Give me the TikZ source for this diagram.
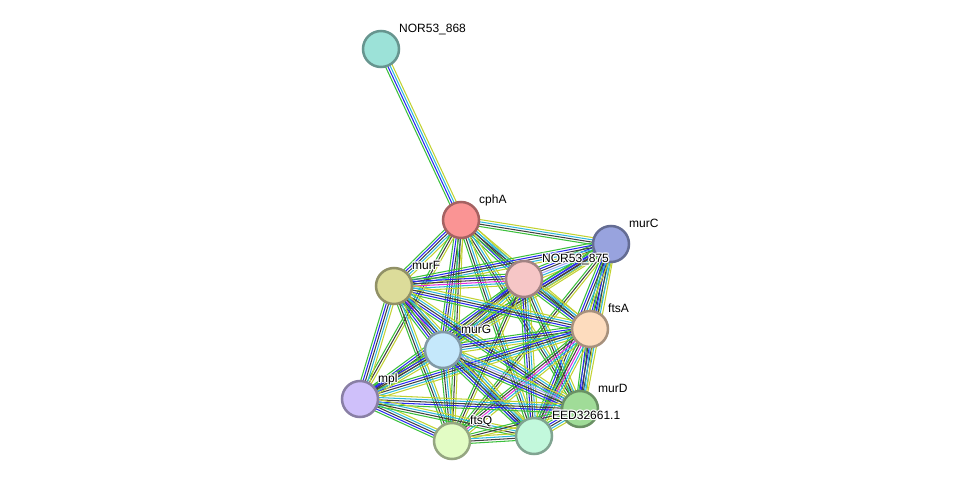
\documentclass[tikz,border=0pt]{standalone}
\usepackage{fontspec}
\setmainfont{Liberation Sans}
\usetikzlibrary{calc}
\pgfdeclarelayer{bg}
\pgfsetlayers{bg,main}
\definecolor{eG}{HTML}{3CC03C}
\definecolor{eB}{HTML}{2A2AF0}
\definecolor{eK}{HTML}{404040}
\definecolor{eM}{HTML}{E030E0}
\definecolor{eC}{HTML}{30B8DC}
\definecolor{eY}{HTML}{C2D232}
\definecolor{eL}{HTML}{A8A8F8}
\tikzset{
  prot/.style={circle, minimum size=36pt, inner sep=0pt, line width=2.5pt, draw=#1!66!black, fill=#1},
  edge/.style={line width=1.05pt},
  lab/.style={anchor=base west, inner sep=0pt, font=\fontsize{12}{12}\selectfont, text=black}
}
\newcommand\bundle[3]{%
  \gdef\nn{0}%
  \foreach \c in {#3}{\xdef\nn{\the\numexpr\nn+1\relax}}%
  \foreach \c [count=\i] in {#3}{%
    \pgfmathsetmacro\off{(\i-(\nn+1)/2)*2.3}%
    \draw[edge,\c] ($(#1)!\off pt!90:(#2)$) -- ($(#2)!\off pt!-90:(#1)$);
  }}
\newcommand\lbl[3]{%
  \foreach \dx/\dy in {1.2/0,-1.2/0,0/1.2,0/-1.2,0.85/0.85,-0.85/0.85,0.85/-0.85,-0.85/-0.85}
    \node[lab,text=white] at ($(#2)+(18+\dx,-16.5+\dy)$) {#3};
  \node[lab] (#1) at ($(#2)+(18,-16.5)$) {#3};}
\definecolor{c868}{HTML}{9CE2D8}
\definecolor{ccphA}{HTML}{FA9494}
\definecolor{cmurC}{HTML}{98A3DE}
\definecolor{c875}{HTML}{F6C6C6}
\definecolor{cmurF}{HTML}{DCDC9A}
\definecolor{cftsA}{HTML}{FDDCBE}
\definecolor{cmurG}{HTML}{C5E8FB}
\definecolor{cmpl}{HTML}{CFC0FA}
\definecolor{cmurD}{HTML}{A0DC98}
\definecolor{cftsQ}{HTML}{E2FCC4}
\definecolor{ceed}{HTML}{C2F8DC}
\begin{document}
\begin{tikzpicture}[x=1pt,y=-1pt]
\useasboundingbox (0,0) rectangle (975,487);
\node[prot=c868] (n868) at (381,49) {};
\node[prot=ccphA] (cphA) at (461,220) {};
\node[prot=cmurC] (murC) at (611,244) {};
\node[prot=c875] (n875) at (524,279) {};
\node[prot=cmurF] (murF) at (394,286) {};
\node[prot=cftsA] (ftsA) at (590,329) {};
\node[prot=cmurG] (murG) at (443,350) {};
\node[prot=cmpl] (mpl) at (360,399) {};
\node[prot=cmurD] (murD) at (580,409) {};
\node[prot=cftsQ] (ftsQ) at (452,441) {};
\node[prot=ceed] (eed) at (534,436) {};
\begin{pgfonlayer}{bg}
\bundle{n868}{cphA}{eG,eB,eC,eY}
\bundle{cphA}{murC}{eG,eK,eC,eY}
\bundle{cphA}{n875}{eG,eB,eK,eC,eY}
\bundle{cphA}{murF}{eG,eB,eK,eC,eY}
\bundle{cphA}{ftsA}{eG,eK,eC,eY}
\bundle{cphA}{murG}{eG,eB,eK,eC,eY}
\bundle{cphA}{mpl}{eG,eK,eY}
\bundle{cphA}{murD}{eG,eK,eC,eY}
\bundle{cphA}{ftsQ}{eG,eK,eY}
\bundle{cphA}{eed}{eG,eK,eC,eY}
\bundle{murC}{n875}{eG,eB,eK,eL,eC,eY}
\bundle{murC}{murF}{eG,eB,eK,eC,eY}
\bundle{murC}{ftsA}{eG,eB,eK,eC,eY}
\bundle{murC}{murG}{eG,eB,eK,eC,eY}
\bundle{murC}{mpl}{eG,eB,eK,eY}
\bundle{murC}{murD}{eG,eB,eK,eC,eY}
\bundle{murC}{ftsQ}{eG,eK,eY}
\bundle{murC}{eed}{eG,eB,eK,eC,eY}
\bundle{n875}{murF}{eG,eB,eK,eM,eC,eY}
\bundle{n875}{ftsA}{eG,eB,eK,eC,eY}
\bundle{n875}{murG}{eG,eB,eK,eC,eY}
\bundle{n875}{mpl}{eG,eB,eK,eY}
\bundle{n875}{murD}{eG,eK,eC,eY}
\bundle{n875}{ftsQ}{eG,eK,eY}
\bundle{n875}{eed}{eG,eB,eK,eC,eY}
\bundle{murF}{ftsA}{eG,eB,eK,eC,eY}
\bundle{murF}{murG}{eG,eB,eK,eM,eC,eY}
\bundle{murF}{mpl}{eG,eB,eK,eC,eY}
\bundle{murF}{murD}{eG,eB,eK,eC,eY}
\bundle{murF}{ftsQ}{eG,eK,eC,eY}
\bundle{murF}{eed}{eG,eB,eK,eC,eY}
\bundle{ftsA}{murG}{eG,eB,eK,eC,eY}
\bundle{ftsA}{mpl}{eG,eB,eK,eC,eY}
\bundle{ftsA}{murD}{eG,eB,eK,eC,eY}
\bundle{ftsA}{ftsQ}{eG,eK,eM,eC,eY}
\bundle{ftsA}{eed}{eG,eK,eM,eC,eY}
\bundle{murG}{mpl}{eG,eB,eK,eC,eY}
\bundle{murG}{murD}{eG,eB,eK,eL,eC,eY}
\bundle{murG}{ftsQ}{eG,eK,eC,eY}
\bundle{murG}{eed}{eG,eB,eK,eC,eY}
\bundle{mpl}{murD}{eG,eB,eK,eC,eY}
\bundle{mpl}{ftsQ}{eG,eB,eK,eC,eY}
\bundle{mpl}{eed}{eG,eK,eC,eY}
\bundle{murD}{ftsQ}{eG,eK,eY}
\bundle{murD}{eed}{eG,eB,eK,eC,eY}
\bundle{ftsQ}{eed}{eG,eK,eC,eY}
\end{pgfonlayer}
\lbl{l868}{n868}{NOR53\_868}
\lbl{lcphA}{cphA}{cphA}
\lbl{lmurC}{murC}{murC}
\lbl{l875}{n875}{NOR53\_875}
\lbl{lmurF}{murF}{murF}
\lbl{lftsA}{ftsA}{ftsA}
\lbl{lmurG}{murG}{murG}
\lbl{lmpl}{mpl}{mpl}
\lbl{lmurD}{murD}{murD}
\lbl{lftsQ}{ftsQ}{ftsQ}
\lbl{leed}{eed}{EED32661.1}
\end{tikzpicture}
\end{document}
